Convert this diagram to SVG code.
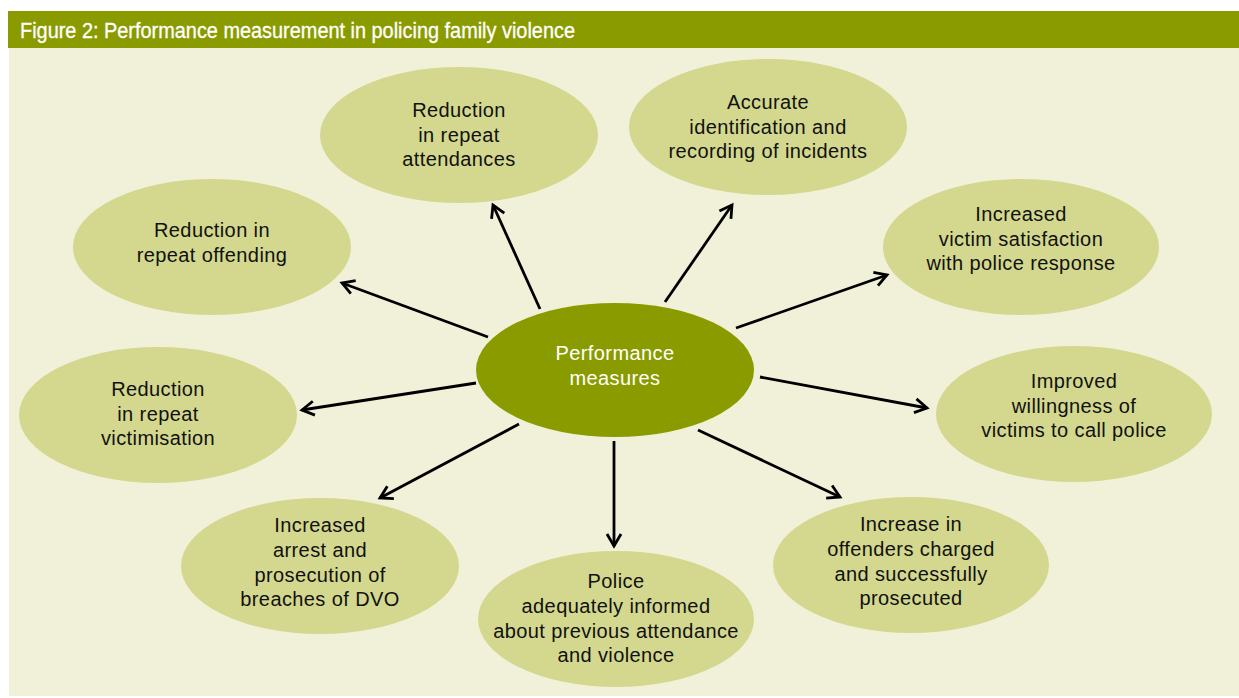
<svg xmlns="http://www.w3.org/2000/svg" width="1239" height="698" viewBox="0 0 1239 698">
  <style>
    .bg { fill: #F1F1D9; }
    .bar { fill: #8A9B00; }
    .title { font-family: "Liberation Sans", Arial, sans-serif; font-size: 21.5px; fill: #FFFFFF; stroke: #FFFFFF; stroke-width: 0.3px; }
    .node ellipse { fill: #D3D88E; }
    .hub ellipse { fill: #8A9B00; }
    .lbl { font-family: "Liberation Sans", Arial, sans-serif; font-size: 20px; letter-spacing: 0.4px; fill: #111111; text-anchor: middle; }
    .hub .lbl { fill: #FFFFFF; }
    .arrow { stroke: #000000; stroke-width: 2.8; fill: none; marker-end: url(#chev); }
  </style>
  <defs>
    <marker id="chev" markerUnits="userSpaceOnUse" viewBox="-16 -10 18 20" refX="0" refY="0" markerWidth="18" markerHeight="20" orient="auto" overflow="visible">
      <path d="M-12,-7 L0,0 L-12,7" fill="none" stroke="#000000" stroke-width="2.8" stroke-linejoin="miter"/>
    </marker>
  </defs>

  <!-- panel and header -->
  <rect class="bg" x="9" y="48" width="1230" height="648"/>
  <rect class="bar" x="8" y="11" width="1231" height="37"/>
  <text class="title" x="20" y="38" textLength="555" lengthAdjust="spacingAndGlyphs">Figure 2: Performance measurement in policing family violence</text>

  <!-- connectors -->
  <g id="connectors">
    <line class="arrow" x1="540" y1="309" x2="493" y2="205"/>
    <line class="arrow" x1="665" y1="302" x2="732" y2="205"/>
    <line class="arrow" x1="488" y1="337" x2="342" y2="283"/>
    <line class="arrow" x1="736" y1="328" x2="887" y2="275"/>
    <line class="arrow" x1="476" y1="383" x2="302" y2="410"/>
    <line class="arrow" x1="760" y1="377" x2="927" y2="408"/>
    <line class="arrow" x1="519" y1="424" x2="380" y2="498"/>
    <line class="arrow" x1="614" y1="441" x2="614" y2="546"/>
    <line class="arrow" x1="698" y1="430" x2="840" y2="497"/>
  </g>

  <!-- central node -->
  <g id="performance-measures" class="hub">
    <ellipse cx="615" cy="370" rx="139" ry="67"/>
    <text class="lbl" x="615" y="360">Performance</text>
    <text class="lbl" x="615" y="385">measures</text>
  </g>

  <!-- outcome nodes -->
  <g id="repeat-attendances" class="node">
    <ellipse cx="459" cy="135" rx="139" ry="68"/>
    <text class="lbl" x="459" y="117">Reduction</text>
    <text class="lbl" x="459" y="142">in repeat</text>
    <text class="lbl" x="459" y="166">attendances</text>
  </g>

  <g id="accurate-identification" class="node">
    <ellipse cx="768" cy="127" rx="139" ry="68"/>
    <text class="lbl" x="768" y="109">Accurate</text>
    <text class="lbl" x="768" y="134">identification and</text>
    <text class="lbl" x="768" y="158">recording of incidents</text>
  </g>

  <g id="repeat-offending" class="node">
    <ellipse cx="212" cy="247" rx="139" ry="68"/>
    <text class="lbl" x="212" y="237">Reduction in</text>
    <text class="lbl" x="212" y="262">repeat offending</text>
  </g>

  <g id="victim-satisfaction" class="node">
    <ellipse cx="1021" cy="247" rx="138" ry="68"/>
    <text class="lbl" x="1021" y="221">Increased</text>
    <text class="lbl" x="1021" y="246">victim satisfaction</text>
    <text class="lbl" x="1021" y="270">with police response</text>
  </g>

  <g id="repeat-victimisation" class="node">
    <ellipse cx="158" cy="415" rx="139" ry="68"/>
    <text class="lbl" x="158" y="396">Reduction</text>
    <text class="lbl" x="158" y="421">in repeat</text>
    <text class="lbl" x="158" y="445">victimisation</text>
  </g>

  <g id="willingness-to-call" class="node">
    <ellipse cx="1074" cy="414" rx="138" ry="68"/>
    <text class="lbl" x="1074" y="388">Improved</text>
    <text class="lbl" x="1074" y="413">willingness of</text>
    <text class="lbl" x="1074" y="437">victims to call police</text>
  </g>

  <g id="arrest-prosecution-dvo" class="node">
    <ellipse cx="320" cy="566" rx="139" ry="68"/>
    <text class="lbl" x="320" y="532">Increased</text>
    <text class="lbl" x="320" y="557">arrest and</text>
    <text class="lbl" x="320" y="582">prosecution of</text>
    <text class="lbl" x="320" y="606">breaches of DVO</text>
  </g>

  <g id="police-informed" class="node">
    <ellipse cx="616" cy="619" rx="138" ry="68"/>
    <text class="lbl" x="616" y="588">Police</text>
    <text class="lbl" x="616" y="613">adequately informed</text>
    <text class="lbl" x="616" y="638">about previous attendance</text>
    <text class="lbl" x="616" y="662">and violence</text>
  </g>

  <g id="offenders-charged" class="node">
    <ellipse cx="911" cy="565" rx="138" ry="68"/>
    <text class="lbl" x="911" y="531">Increase in</text>
    <text class="lbl" x="911" y="556">offenders charged</text>
    <text class="lbl" x="911" y="581">and successfully</text>
    <text class="lbl" x="911" y="605">prosecuted</text>
  </g>
</svg>
